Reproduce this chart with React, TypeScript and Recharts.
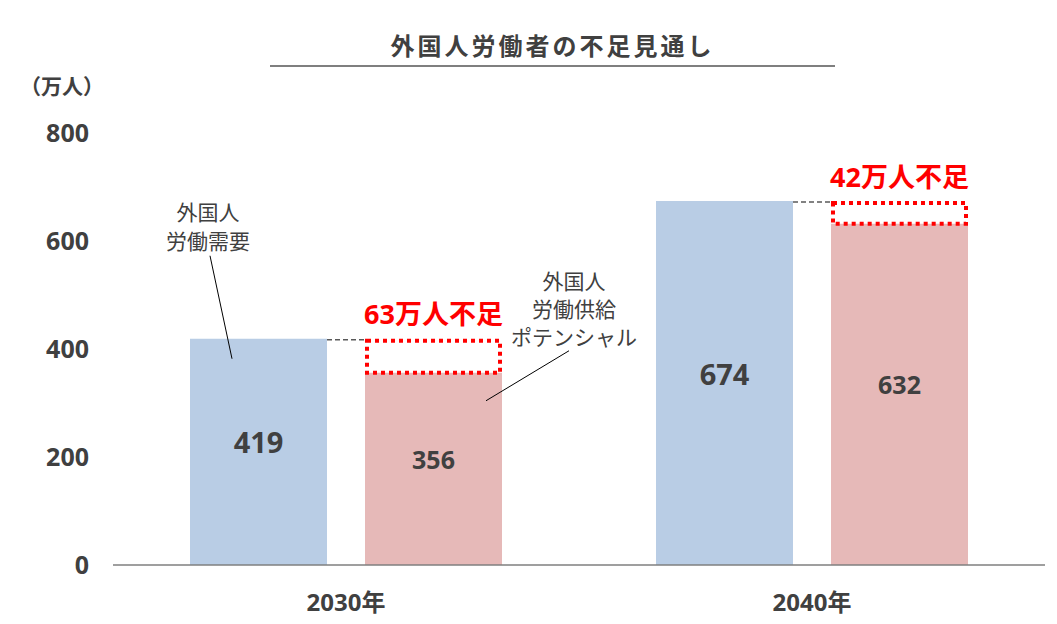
import { Bar, BarChart, LabelList, XAxis, YAxis } from 'recharts';

const years = ['2030年', '2040年'];
const demand = [419, 674];
const supply = [356, 632];
const shortage = [63, 42];
const yTicks = [0, 200, 400, 600, 800];

const data = years.map((year, i) => ({
  year,
  demand: demand[i],
  supply: supply[i],
  shortage: shortage[i],
}));

const FONT = '"Noto Sans CJK JP", "Noto Sans", sans-serif';
const NUM_FONT = '"Open Sans", "Noto Sans CJK JP", sans-serif';
const TEXT = '#404040';
const BLUE = '#B9CDE5';
const PINK = '#E6B9B8';
const RED = '#FF0000';
const BAR_GAP = 38;

type LabelProps = {
  x?: number;
  y?: number;
  width?: number;
  height?: number;
  value?: number;
  index?: number;
};

function valueLabel(size: number) {
  return function ValueLabel({ x = 0, y = 0, width = 0, height = 0, value }: LabelProps) {
    return (
      <text
        x={x + width / 2}
        y={y + height / 2 - 10}
        textAnchor="middle"
        dominantBaseline="central"
        fontFamily={NUM_FONT}
        fontWeight={700}
        fontSize={size}
        fill={TEXT}
      >
        {value}
      </text>
    );
  };
}

function DemandCallout({ x = 0, y = 0, index }: LabelProps) {
  if (index !== 0) return null;
  const cx = x + 18;
  return (
    <g>
      <line x1={x + 42} y1={y + 20} x2={x + 20} y2={y - 83} stroke="#000" strokeWidth={1} />
      <text textAnchor="middle" fontFamily={FONT} fontSize={21} fill={TEXT}>
        <tspan x={cx} y={y - 119}>外国人</tspan>
        <tspan x={cx} y={y - 90}>労働需要</tspan>
      </text>
    </g>
  );
}

function SupplyCallout({ x = 0, y = 0, index }: LabelProps) {
  if (index !== 0) return null;
  const top = y - 34; // top of the shortage box (demand level)
  const cx = x + 209;
  return (
    <g>
      <line x1={x + 121} y1={y + 28} x2={x + 204} y2={y - 22} stroke="#000" strokeWidth={1} />
      <text textAnchor="middle" fontFamily={FONT} fontSize={21} fill={TEXT}>
        <tspan x={cx} y={top - 50}>外国人</tspan>
        <tspan x={cx} y={top - 22}>労働供給</tspan>
        <tspan x={cx} y={top + 6}>ポテンシャル</tspan>
      </text>
    </g>
  );
}

function ShortageLabel({ x = 0, y = 0, width = 0, value }: LabelProps) {
  return (
    <text
      x={x + width / 2}
      y={y - 25}
      textAnchor="middle"
      dominantBaseline="central"
      fontFamily={NUM_FONT}
      fontWeight={700}
      fontSize={27}
      fill={RED}
    >
      {`${value}万人不足`}
    </text>
  );
}

function ShortageBox(props: { x?: number; y?: number; width?: number; height?: number }) {
  const { x = 0, y = 0, width = 0, height = 0 } = props;
  return (
    <g>
      <line
        x1={x - BAR_GAP}
        y1={y + 1}
        x2={x}
        y2={y + 1}
        stroke="#595959"
        strokeWidth={1.5}
        strokeDasharray="5 3"
      />
      <rect
        x={x + 2}
        y={y + 2}
        width={width - 4}
        height={height - 2}
        fill="none"
        stroke={RED}
        strokeWidth={4}
        strokeDasharray="4 4"
      />
    </g>
  );
}

export default function App() {
  return (
    <div
      style={{
        position: 'absolute',
        left: 0,
        top: 0,
        width: 1057,
        height: 624,
        background: '#fff',
        fontFamily: FONT,
      }}
    >
      <div
        style={{
          position: 'absolute',
          left: 270,
          width: 565,
          top: 28,
          textAlign: 'center',
          fontSize: 24,
          fontWeight: 700,
          color: TEXT,
          letterSpacing: 3,
          lineHeight: '34px',
        }}
      >
        外国人労働者の不足見通し
      </div>
      <div
        style={{
          position: 'absolute',
          left: 270,
          width: 565,
          top: 65,
          height: 2,
          background: '#7F7F7F',
        }}
      />
      <div
        style={{
          position: 'absolute',
          left: 20,
          top: 70,
          fontSize: 21,
          fontWeight: 700,
          color: TEXT,
          lineHeight: '30px',
        }}
      >
        （万人）
      </div>
      <BarChart
        width={1057}
        height={624}
        data={data}
        margin={{ top: 133, right: 12, bottom: 0, left: 0 }}
        barGap={BAR_GAP}
        barCategoryGap={77}
      >
        <XAxis
          dataKey="year"
          height={59}
          tickLine={false}
          tickSize={0}
          tickMargin={29}
          axisLine={{ stroke: '#7F7F7F', strokeWidth: 1.5 }}
          tick={{ fill: TEXT, fontSize: 24, fontWeight: 700, fontFamily: NUM_FONT }}
        />
        <YAxis
          width={113}
          domain={[0, 800]}
          ticks={yTicks}
          axisLine={false}
          tickLine={false}
          tickSize={0}
          tickMargin={24}
          tick={{ fill: TEXT, fontSize: 25, fontWeight: 700, fontFamily: NUM_FONT }}
        />
        <Bar dataKey="demand" stackId="a" fill={BLUE} isAnimationActive={false}>
          <LabelList dataKey="demand" content={valueLabel(29)} />
          <LabelList dataKey="demand" content={DemandCallout} />
        </Bar>
        <Bar dataKey="supply" stackId="b" fill={PINK} isAnimationActive={false}>
          <LabelList dataKey="supply" content={valueLabel(25)} />
          <LabelList dataKey="supply" content={SupplyCallout} />
        </Bar>
        <Bar dataKey="shortage" stackId="b" shape={ShortageBox} isAnimationActive={false}>
          <LabelList dataKey="shortage" content={ShortageLabel} />
        </Bar>
      </BarChart>
    </div>
  );
}
